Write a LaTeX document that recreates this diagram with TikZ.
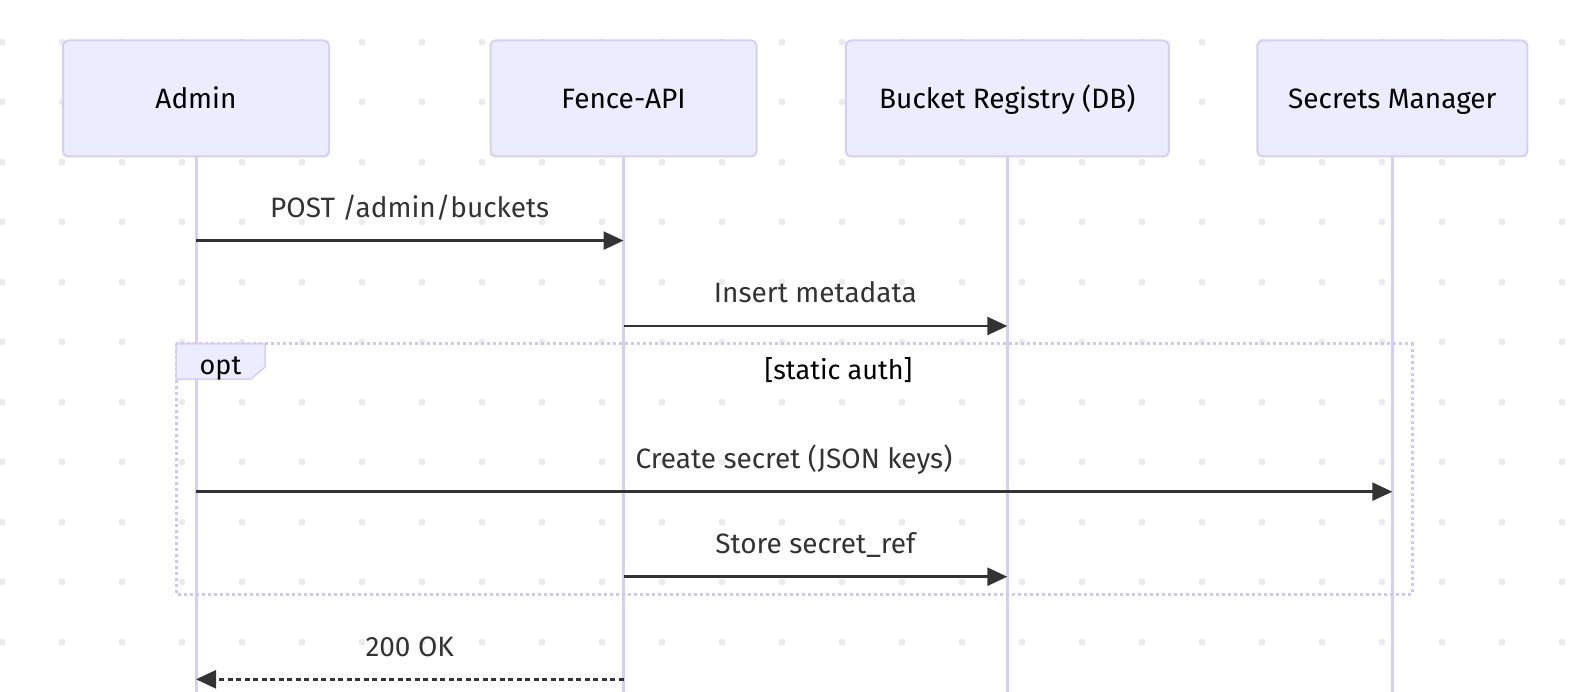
\documentclass[tikz,border=0pt]{standalone}
\usepackage{fontspec}
\setmainfont{Fira Sans}
\usetikzlibrary{arrows.meta}
\definecolor{actfill}{HTML}{ECECFF}
\definecolor{actline}{HTML}{D6CFF3}
\definecolor{framec}{HTML}{CFC7F0}
\definecolor{msgc}{HTML}{333333}
\definecolor{dotc}{HTML}{EBEBEB}
\tikzset{
  actor/.style={draw=actline, fill=actfill, line width=2pt, rounded corners=5pt,
    minimum height=116pt, inner sep=0pt, text height=20pt, text depth=0pt,
    font=\fontsize{28}{33}\selectfont, text=black},
  lifeline/.style={draw=actline, line width=3pt},
  msg/.style={draw=msgc, line width=2.5pt, -{Triangle[length=20pt,width=18pt]}},
  reply/.style={msg, dash pattern=on 5pt off 3.5pt},
  msglabel/.style={anchor=base, inner sep=0pt, font=\fontsize{28}{33}\selectfont, text=msgc},
  optframe/.style={draw=framec, line width=3pt, dash pattern=on 3pt off 3pt},
  opttab/.style={draw=actline, fill=actfill, line width=1.5pt},
  optlabel/.style={anchor=base, inner sep=0pt, font=\fontsize{27}{31}\selectfont, text=black},
}
\begin{document}
\begin{tikzpicture}[x=1pt, y=-1pt]
\useasboundingbox (0,0) rectangle (1592,692);
% dotted background
\foreach \i in {0,...,26} {
  \foreach \j in {0,...,10} {
    \fill[dotc] (2+60*\i, 42+60*\j) circle (3.4pt);
  }
}
% actors
\node[actor, minimum width=266pt] (admin) at (196,98.5) {Admin};
\node[actor, minimum width=266pt] (fence) at (623.5,98.5) {Fence-API};
\node[actor, minimum width=323pt] (bucket) at (1007.3,98.5) {Bucket Registry (DB)};
\node[actor, minimum width=270pt] (secrets) at (1392.3,98.5) {Secrets Manager};
% lifelines
\coordinate (adminEnd) at (196,692);
\coordinate (fenceEnd) at (623.5,692);
\coordinate (bucketEnd) at (1007.3,692);
\coordinate (secretsEnd) at (1392.3,692);
\draw[lifeline] (admin.south) -- (adminEnd);
\draw[lifeline] (fence.south) -- (fenceEnd);
\draw[lifeline] (bucket.south) -- (bucketEnd);
\draw[lifeline] (secrets.south) -- (secretsEnd);
% opt frame
\draw[optframe] (176,344) rectangle (1412,594);
\draw[opttab] (176,344) -- (265,344) -- (265,367) -- (251,379) -- (176,379) -- cycle;
\node[optlabel] (optT) at (220.5,374) {opt};
\node[optlabel] (condT) at (838.5,379) {[static auth]};
% messages
\draw[msg] (admin |- 0,240.6) -- (fence |- 0,240.6);
\node[msglabel] (m1) at (409.7,217.6) {POST /admin/buckets};
\draw[msg] (fence |- 0,326) -- (bucket |- 0,326);
\node[msglabel] (m2) at (815.4,303) {Insert metadata};
\draw[msg] (admin |- 0,491.7) -- (secrets |- 0,491.7);
\node[msglabel] (m3) at (794,468.5) {Create secret (JSON keys)};
\draw[msg] (fence |- 0,576.7) -- (bucket |- 0,576.7);
\node[msglabel] (m4) at (815.4,553.5) {Store secret\_ref};
\draw[reply] (fence |- 0,679.3) -- (admin |- 0,679.3);
\node[msglabel] (m5) at (409.7,656.5) {200 OK};
\end{tikzpicture}
\end{document}
